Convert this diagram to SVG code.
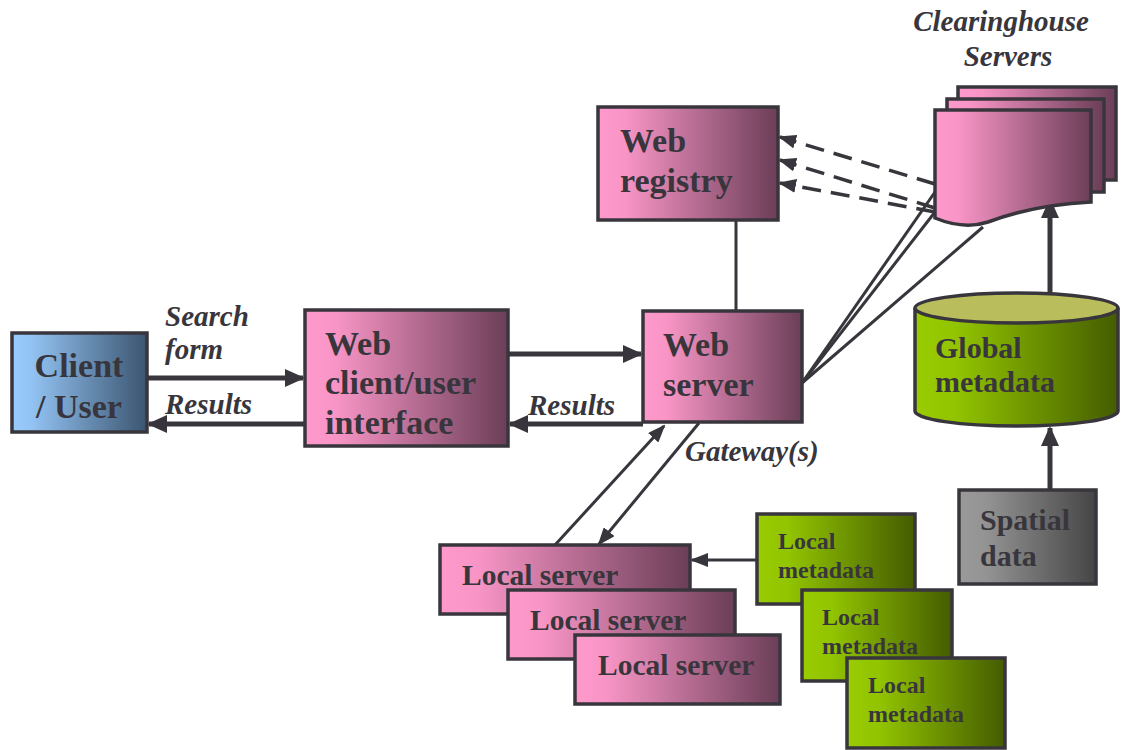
<svg xmlns="http://www.w3.org/2000/svg" width="1122" height="750" viewBox="0 0 1122 750">
<defs>
<linearGradient id="pink" x1="0" y1="0" x2="1" y2="0"><stop offset="0" stop-color="#ff99cc"/><stop offset="0.15" stop-color="#f895c6"/><stop offset="1" stop-color="#6b3e57"/></linearGradient>
<linearGradient id="blue" x1="0" y1="0" x2="1" y2="0"><stop offset="0" stop-color="#99ccff"/><stop offset="0.15" stop-color="#92c2f2"/><stop offset="1" stop-color="#3b5570"/></linearGradient>
<linearGradient id="green" x1="0" y1="0" x2="1" y2="0"><stop offset="0" stop-color="#99cc00"/><stop offset="0.2" stop-color="#92c400"/><stop offset="1" stop-color="#445c00"/></linearGradient>
<linearGradient id="gray" x1="0" y1="0" x2="1" y2="0"><stop offset="0" stop-color="#9a9a9a"/><stop offset="0.2" stop-color="#939393"/><stop offset="1" stop-color="#454545"/></linearGradient>
<marker id="ah" markerUnits="userSpaceOnUse" markerWidth="20" markerHeight="18" refX="18" refY="9" orient="auto"><path d="M0,0 L20,9 L0,18 Z" fill="#38363c"/></marker>
<marker id="ahs" markerUnits="userSpaceOnUse" markerWidth="18" markerHeight="14" refX="16" refY="7" orient="auto"><path d="M0,0 L18,7 L0,14 Z" fill="#38363c"/></marker>
<style>
.box{stroke:#38363c;stroke-width:3.5}
.t{font-family:"Liberation Serif","Times New Roman",serif;font-weight:bold;fill:#38363c}
.i{font-family:"Liberation Serif","Times New Roman",serif;font-weight:bold;font-style:italic;fill:#38363c;font-size:29px}
.thick{stroke:#38363c;stroke-width:5;fill:none}
.thin{stroke:#38363c;stroke-width:3;fill:none}
.dash{stroke:#38363c;stroke-width:3.5;fill:none;stroke-dasharray:19 10}
</style>
</defs>
<rect width="1122" height="750" fill="#ffffff"/>

<g id="connectors">
<line class="thick" x1="147" y1="378" x2="303" y2="378" marker-end="url(#ah)"/>
<line class="thick" x1="305" y1="424" x2="149" y2="424" marker-end="url(#ah)"/>
<line class="thick" x1="508" y1="354" x2="641" y2="354" marker-end="url(#ah)"/>
<line class="thick" x1="643" y1="424" x2="510" y2="424" marker-end="url(#ah)"/>
<line class="thin" x1="736" y1="220" x2="736" y2="311"/>
<line class="thin" x1="802" y1="383" x2="935" y2="192"/>
<line class="thin" x1="802" y1="383" x2="942" y2="203"/>
<line class="thin" x1="802" y1="383" x2="983" y2="227"/>
<line class="dash" x1="935" y1="184" x2="780" y2="137" marker-end="url(#ahs)"/>
<line class="dash" x1="935" y1="208" x2="780" y2="160" marker-end="url(#ahs)"/>
<line class="dash" x1="935" y1="212" x2="780" y2="183" marker-end="url(#ahs)"/>
<line class="thin" x1="555" y1="545" x2="664" y2="426" marker-end="url(#ahs)"/>
<line class="thin" x1="699" y1="423" x2="599" y2="544" marker-end="url(#ahs)"/>
<line class="thin" x1="757" y1="560" x2="692" y2="560" marker-end="url(#ahs)"/>
<line class="thick" x1="1050" y1="293" x2="1050" y2="200" marker-end="url(#ah)"/>
<line class="thick" x1="1050" y1="490" x2="1050" y2="428" marker-end="url(#ah)"/>
</g>

<g id="client">
<rect class="box" x="12" y="333" width="135" height="99" fill="url(#blue)"/>
<text class="t" font-size="34" x="79" y="377" text-anchor="middle">Client</text>
<text class="t" font-size="34" x="79" y="418" text-anchor="middle">/ User</text>
</g>

<g id="webclient">
<rect class="box" x="305" y="310" width="203" height="136" fill="url(#pink)"/>
<text class="t" font-size="34" x="325" y="355">Web</text>
<text class="t" font-size="34" x="325" y="394">client/user</text>
<text class="t" font-size="34" x="325" y="434">interface</text>
</g>

<g id="webserver">
<rect class="box" x="643" y="311" width="159" height="111" fill="url(#pink)"/>
<text class="t" font-size="34" x="663" y="356">Web</text>
<text class="t" font-size="34" x="663" y="396">server</text>
</g>

<g id="webregistry">
<rect class="box" x="598" y="107" width="180" height="113" fill="url(#pink)"/>
<text class="t" font-size="34" x="620" y="152">Web</text>
<text class="t" font-size="34" x="620" y="192">registry</text>
</g>

<g id="clearinghouse">
<text class="i" x="1001" y="31" text-anchor="middle">Clearinghouse</text>
<text class="i" x="1008" y="66" text-anchor="middle">Servers</text>
<rect class="box" x="958" y="87" width="158" height="93" fill="url(#pink)"/>
<rect class="box" x="947" y="99" width="157" height="93" fill="url(#pink)"/>
<path class="box" d="M935,110 H1091 V202 C1050,204 1015,212 988,222 C970,228 952,225 935,218 Z" fill="url(#pink)"/>
</g>

<g id="globalmetadata">
<path class="box" d="M915,308 V411 A101.5,15 0 0 0 1118,411 V308" fill="url(#green)"/>
<ellipse class="box" cx="1016.5" cy="308" rx="101.5" ry="15" fill="#b9bd5c"/>
<text class="t" font-size="30" x="935" y="358">Global</text>
<text class="t" font-size="30" x="935" y="392">metadata</text>
</g>

<g id="spatialdata">
<rect class="box" x="959" y="490" width="137" height="94" fill="url(#gray)"/>
<text class="t" font-size="30" x="980" y="530">Spatial</text>
<text class="t" font-size="30" x="980" y="566">data</text>
</g>

<g id="localserver1">
<rect class="box" x="440" y="545" width="250" height="69" fill="url(#pink)"/>
<text class="t" font-size="29.5" x="462" y="585">Local server</text>
</g>
<g id="localserver2">
<rect class="box" x="508" y="590" width="227" height="69" fill="url(#pink)"/>
<text class="t" font-size="29.5" x="530" y="630">Local server</text>
</g>
<g id="localserver3">
<rect class="box" x="575" y="635" width="205" height="69" fill="url(#pink)"/>
<text class="t" font-size="29.5" x="598" y="675">Local server</text>
</g>

<g id="localmetadata1">
<rect class="box" x="757" y="514" width="158" height="90" fill="url(#green)"/>
<text class="t" font-size="24" x="778" y="549">Local</text>
<text class="t" font-size="24" x="778" y="578">metadata</text>
</g>
<g id="localmetadata2">
<rect class="box" x="802" y="590" width="150" height="91" fill="url(#green)"/>
<text class="t" font-size="24" x="822" y="625">Local</text>
<text class="t" font-size="24" x="822" y="654">metadata</text>
</g>
<g id="localmetadata3">
<rect class="box" x="847" y="658" width="158" height="90" fill="url(#green)"/>
<text class="t" font-size="24" x="868" y="693">Local</text>
<text class="t" font-size="24" x="868" y="722">metadata</text>
</g>

<g id="labels">
<text class="i" x="165" y="326">Search</text>
<text class="i" x="165" y="359">form</text>
<text class="i" x="165" y="414">Results</text>
<text class="i" x="528" y="415">Results</text>
<text class="i" x="685" y="461">Gateway(s)</text>
</g>
</svg>
